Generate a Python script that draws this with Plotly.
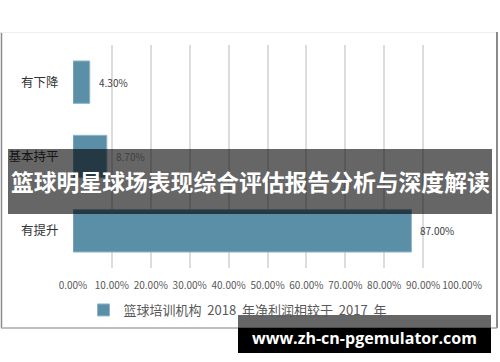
import plotly.graph_objects as go

categories = ["有下降", "基本持平", "有提升"]
values = [0.043, 0.087, 0.87]
value_labels = ["4.30%", "8.70%", "87.00%"]
tick_vals = [i / 10 for i in range(11)]
tick_text = ["0.00%", "10.00%", "20.00%", "30.00%", "40.00%", "50.00%",
             "60.00%", "70.00%", "80.00%", "90.00%", "100.00%"]
series_name = "篮球培训机构  2018  年净利润相较于  2017  年"
title_text = "篮球明星球场表现综合评估报告分析与深度解读"
watermark = "www.zh-cn-pgemulator.com"

W, H = 500, 362
L, R, T, B = 73, 462, 45, 268

def px(x):
    return (x - L) / (R - L)

def py(y):
    return (B - y) / (B - T)

FONT = "Noto Sans CJK SC, Noto Sans, sans-serif"

fig = go.Figure()
fig.add_trace(go.Bar(
    y=categories, x=values, orientation="h", name=series_name,
    marker=dict(color="#5b8fa7", line=dict(color="#8fb6c6", width=1)),
    showlegend=True,
))

annotations = []
for c, v, t in zip(categories, values, value_labels):
    annotations.append(dict(x=v, y=c, xref="x", yref="y", text=t, showarrow=False,
                            xanchor="left", xshift=7,
                            font=dict(size=10, color="#404040", family=FONT)))

annotations.append(dict(x=px(250), y=py(181), xref="paper", yref="paper", text=title_text,
                        showarrow=False, xanchor="center", yanchor="middle",
                        font=dict(size=22.8, color="white", family=FONT, weight="bold")))
annotations.append(dict(x=px(364), y=py(338), xref="paper", yref="paper", text=watermark,
                        showarrow=False, xanchor="center", yanchor="middle",
                        font=dict(size=16, color="white", family="Open Sans, DejaVu Sans, sans-serif", weight="bold")))

shapes = [
    # frame
    dict(type="line", xref="paper", yref="paper", x0=px(1.5), x1=px(1.5), y0=py(32), y1=py(328),
         line=dict(color="#8a8a8a", width=1.5), layer="below"),
    dict(type="line", xref="paper", yref="paper", x0=px(1), x1=px(497), y0=py(32.5), y1=py(32.5),
         line=dict(color="#eeeeee", width=1), layer="below"),
    dict(type="line", xref="paper", yref="paper", x0=px(497), x1=px(497), y0=py(32), y1=py(328),
         line=dict(color="#8a8a8a", width=2), layer="below"),
    dict(type="line", xref="paper", yref="paper", x0=px(1), x1=px(497), y0=py(328), y1=py(328),
         line=dict(color="#a8a8a8", width=1.5), layer="below"),
    # title band
    dict(type="rect", xref="paper", yref="paper", x0=px(8), x1=px(492), y0=py(149), y1=py(214),
         fillcolor="rgba(0,0,0,0.6)", line=dict(width=0), layer="above"),
    # watermark
    dict(type="rect", xref="paper", yref="paper", x0=px(238), x1=px(491), y0=py(315), y1=py(328),
         fillcolor="rgba(0,0,0,0.6)", line=dict(width=0), layer="above"),
    dict(type="rect", xref="paper", yref="paper", x0=px(238), x1=px(491), y0=py(328), y1=py(353),
         fillcolor="black", line=dict(width=0), layer="above"),
]

fig.update_layout(
    width=W, height=H,
    margin=dict(l=L, r=W - R, t=T, b=H - B, pad=0, autoexpand=False),
    paper_bgcolor="white", plot_bgcolor="white",
    bargap=0.43,
    font=dict(family=FONT, color="#404040"),
    xaxis=dict(range=[0, 1], tickvals=tick_vals, ticktext=tick_text, tickangle=0,
               automargin=False,
               showgrid=True, gridcolor="#dcdcdc", gridwidth=1.5, zeroline=False,
               showline=False, ticks="outside", ticklen=8, tickcolor="rgba(0,0,0,0)",
               tickfont=dict(size=10, color="#595959"), fixedrange=True),
    yaxis=dict(autorange="reversed", showgrid=False, zeroline=False, showline=False,
               automargin=False,
               ticks="outside", ticklen=11, tickcolor="rgba(0,0,0,0)",
               tickfont=dict(size=12.5, color="#333333"), fixedrange=True),
    legend=dict(orientation="h", x=px(238), xanchor="center", y=py(310), yanchor="middle",
                font=dict(size=13, color="#595959"), itemwidth=30,
                bgcolor="rgba(0,0,0,0)"),
    annotations=annotations,
    shapes=shapes,
)

fig.write_html("out.html", config={"displayModeBar": False})
